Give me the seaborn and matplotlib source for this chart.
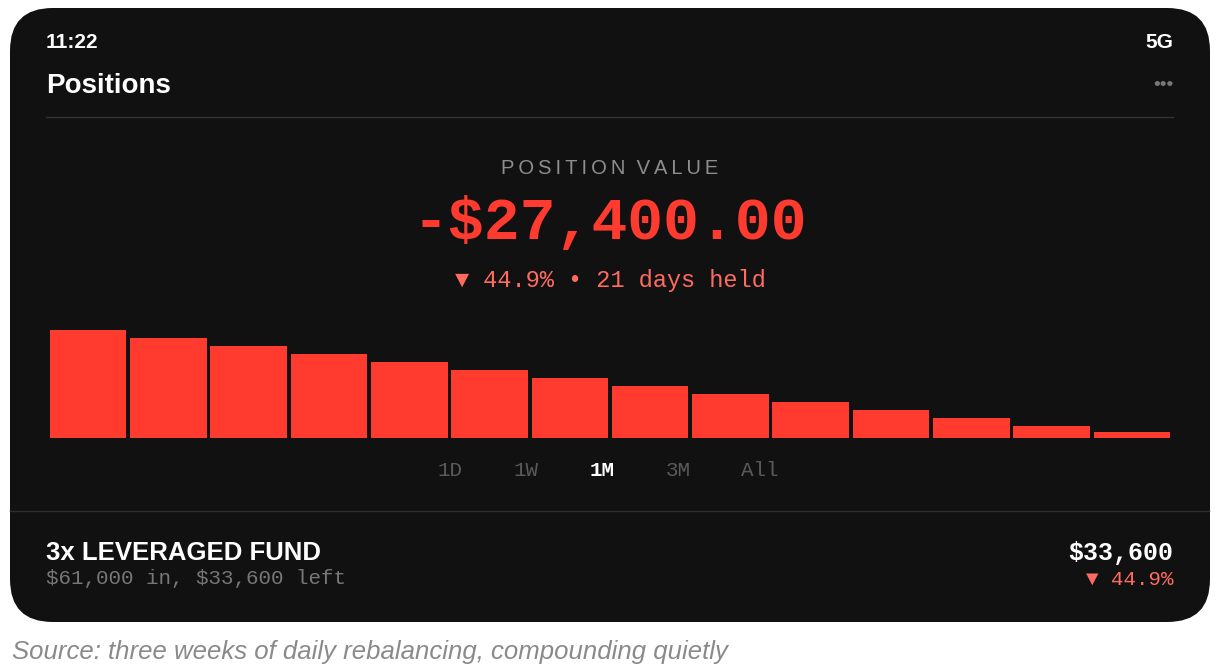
import matplotlib
matplotlib.use("Agg")
import matplotlib.pyplot as plt
import seaborn as sns
import pandas as pd
from matplotlib.patches import FancyBboxPatch
from matplotlib.lines import Line2D

plt.rcParams["text.parse_math"] = False

days = [f"d{i}" for i in range(1, 15)]
values = [108, 100, 92, 84, 76, 68, 60, 52, 44, 36, 28, 20, 12, 6]
ranges = ["1D", "1W", "1M", "3M", "All"]

W, H = 1220, 670
fig = plt.figure(figsize=(12.2, 6.7), dpi=100)
fig.patch.set_facecolor("white")

def fx(x): return x / W
def fy(y): return 1 - (y + 2) / H

card = FancyBboxPatch((fx(10), 1 - 622 / H), fx(1200), 614 / H,
                      boxstyle="round,pad=0,rounding_size=0.035",
                      mutation_aspect=W / H, zorder=-10,
                      transform=fig.transFigure, facecolor="#111111", edgecolor="none")
fig.patches.append(card)

RED = "#ff3b30"
sans = "Liberation Sans"
mono = "Liberation Mono"

fig.text(fx(46), fy(40), "11:22", color="white", fontsize=15, fontweight="bold", family=sans, va="center")
fig.text(fx(1173), fy(40), "5G", color="white", fontsize=15, fontweight="bold", family=sans, va="center", ha="right")
fig.text(fx(46), fy(84), "Positions", color="white", fontsize=20, fontweight="bold", family=sans, va="center")
fig.text(fx(1173), fy(83), "•••", color="#777777", fontsize=14, family=sans, va="center", ha="right")
fig.add_artist(Line2D([fx(46), fx(1173)], [1 - 117 / H] * 2, color="#333333", lw=1, transform=fig.transFigure))

label = "\u2009".join("POSITION") + "  " + "\u2009".join("VALUE")
fig.text(0.5, fy(167), label, color="#8e8e8e", fontsize=14.5, family=[sans, "DejaVu Sans"], va="center", ha="center")
fig.text(0.5, fy(222), "-$27,400.00", color=RED, fontsize=43, fontweight="bold", family=mono, va="center", ha="center")
fig.text(0.5, fy(279), "▼ 44.9% • 21 days held", color="#ff6b61", fontsize=17, family=[mono, "DejaVu Sans"], va="center", ha="center")

ax = fig.add_axes([fx(48), 1 - 438 / H, fx(1124), 108 / H])
df = pd.DataFrame({"day": days, "value": values})
sns.barplot(data=df, x="day", y="value", color=RED, saturation=1, width=0.955, ax=ax)
ax.set_ylim(0, max(values))
ax.set_xlim(-0.5, len(values) - 0.5)
ax.axis("off")

xs = [450, 526, 602, 678, 760]
for x, r in zip(xs, ranges):
    sel = r == "1M"
    fig.text(fx(x), fy(469), r, color="white" if sel else "#5a5a5a", fontsize=15,
             fontweight="bold" if sel else "normal", family=mono, va="center", ha="center")

fig.add_artist(Line2D([fx(10), fx(1209)], [1 - 511 / H] * 2, color="#2e2e2e", lw=1, transform=fig.transFigure))
fig.text(fx(46), fy(551), "3x LEVERAGED FUND", color="white", fontsize=18.5, fontweight="bold", family=sans, va="center")
fig.text(fx(46), fy(577), "$61,000 in, $33,600 left", color="#777777", fontsize=15, family=mono, va="center")
fig.text(fx(1173), fy(551), "$33,600", color="white", fontsize=18, fontweight="bold", family=mono, va="center", ha="right")
fig.text(fx(1173), fy(577), "▼ 44.9%", color="#ff6b61", fontsize=15, family=[mono, "DejaVu Sans"], va="center", ha="right")

fig.text(fx(12), fy(650), "Source: three weeks of daily rebalancing, compounding quietly", color="#8a8a8a",
         fontsize=18.5, style="italic", family=sans, va="center")

fig.savefig("out.png", dpi=100, facecolor="white")
